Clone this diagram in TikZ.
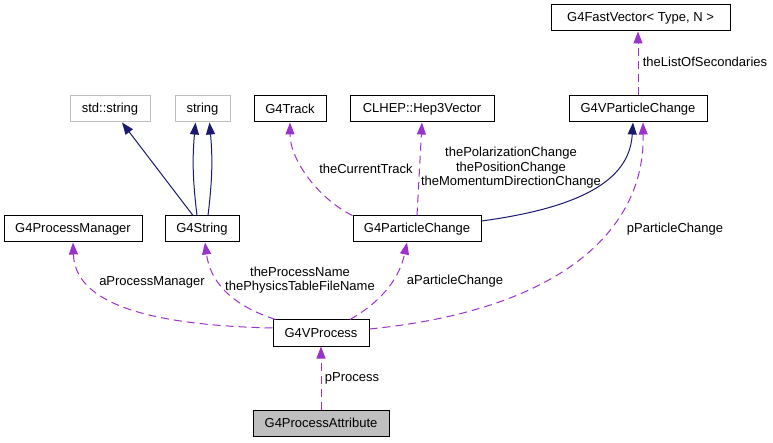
\documentclass[tikz,border=0pt]{standalone}
\usepackage{fontspec}
\setmainfont{Liberation Sans}
\usepackage{tikz}
\usetikzlibrary{arrows.meta}
\usepackage{xcolor}
\definecolor{edgenavy}{RGB}{25,25,112}
\definecolor{edgepurple}{RGB}{154,50,205}
\definecolor{boxgray}{RGB}{191,191,191}

\begin{document}
\begin{tikzpicture}[
    x=1pt, y=-1pt,
    cls/.style={draw, line width=1pt, minimum height=26pt, inner sep=0pt, font=\fontsize{13}{15}\selectfont},
    ext/.style={cls, draw=boxgray},
    lbl/.style={font=\fontsize{13}{14.5}\selectfont, inner sep=0pt, align=center},
    inh/.style={draw=edgenavy, line width=1pt, -{Triangle[length=12pt,width=9pt]}, edgenavy},
    use/.style={draw=edgepurple, line width=1pt, dash pattern=on 8pt off 5pt, -{Triangle[length=12pt,width=9pt]}, edgepurple}
]
\useasboundingbox (0,0) rectangle (773,443);

% classes
\node[cls, minimum width=179pt] (fastvec) at (640.5,18) {G4FastVector< Type, N >};
\node[ext, minimum width=80pt] (stdstr) at (110,109) {std::string};
\node[ext, minimum width=55pt] (str) at (202.5,109) {string};
\node[cls, minimum width=72pt] (track) at (290,109) {G4Track};
\node[cls, minimum width=144pt] (hepvec) at (422,109) {CLHEP::Hep3Vector};
\node[cls, minimum width=138pt] (vpc) at (638,109) {G4VParticleChange};
\node[cls, minimum width=138pt] (procmgr) at (73,229) {G4ProcessManager};
\node[cls, minimum width=74pt] (gstr) at (202,229) {G4String};
\node[cls, minimum width=128pt] (pc) at (417,229) {G4ParticleChange};
\node[cls, minimum width=96pt] (vproc) at (321,333) {G4VProcess};
\node[cls, minimum width=136pt, fill=boxgray] (pattr) at (321,423) {G4ProcessAttribute};

% inheritance
\draw[inh] ([xshift=-9pt]gstr.north) -- ([xshift=12pt]stdstr.south);
\draw[inh] ([xshift=-5pt]gstr.north) to[bend left=6] ([xshift=-7pt]str.south);
\draw[inh] ([xshift=6pt]gstr.north) to[bend right=6] ([xshift=7pt]str.south);
\draw[inh] ([yshift=8pt]pc.east) .. controls +(119,-16) and +(-3,48) .. ([xshift=-5pt]vpc.south);

% usage
\draw[use] (vpc.north) -- (vpc.north |- fastvec.south);
\draw[use] (pc.north west) .. controls +(-33,-16) and +(0,38) .. (track.south);
\draw[use] (pc.north) -- (hepvec.south);
\draw[use] ([yshift=4pt]vproc.east) .. controls +(191,-19) and +(2,108) .. ([xshift=5pt]vpc.south);
\draw[use] ([yshift=5pt]vproc.west) .. controls +(-133,-3) and +(2,58) .. (procmgr.south);
\draw[use] ([xshift=3pt]vproc.north west) .. controls +(-46,-15) and +(5,38) .. ([xshift=3pt]gstr.south);
\draw[use] ([xshift=29pt]vproc.north) .. controls +(35,-20) and +(-7,33) .. ([xshift=-10pt]pc.south);
\draw[use] (pattr.north) -- (vproc.south);

% member names
\node[lbl] (lsec) at (705,62) {theListOfSecondaries};
\node[lbl] (ltrack) at (366,169) {theCurrentTrack};
\node[lbl] (lvec) at (511,168) {thePolarizationChange\\thePositionChange\\theMomentumDirectionChange};
\node[lbl] (lvpc) at (675,229) {pParticleChange};
\node[lbl] (lmgr) at (152,282) {aProcessManager};
\node[lbl] (lname) at (300,280) {theProcessName\\thePhysicsTableFileName};
\node[lbl] (lpc) at (455,281) {aParticleChange};
\node[lbl] (lproc) at (352,378) {pProcess};

\end{tikzpicture}
\end{document}
